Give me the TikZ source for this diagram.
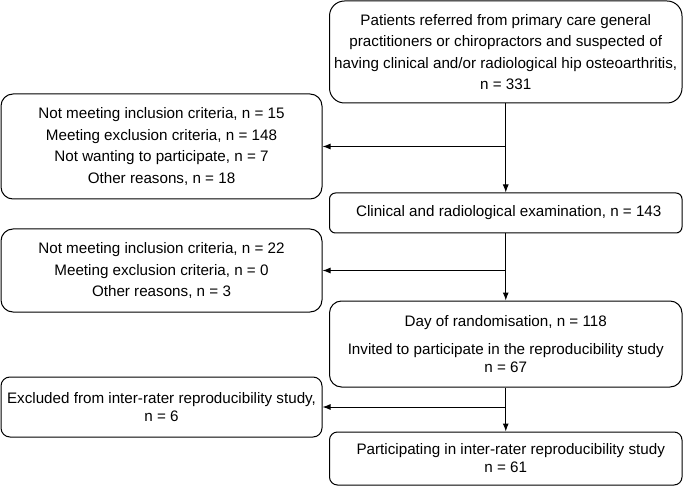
\documentclass[tikz,border=0pt]{standalone}
\usepackage{fontspec}
\setmainfont{Liberation Sans}
\usetikzlibrary{arrows.meta}

\begin{document}
\begin{tikzpicture}[line width=1pt, >={Latex[length=8pt,width=6pt]},
    box/.style = {draw, rounded corners=12pt, align=center, inner sep=0pt, minimum width=352.5pt, font=\fontsize{15.2}{21.5}\selectfont},
    side/.style = {box, minimum width=321pt},
    tight/.style = {font=\fontsize{15.2}{18}\selectfont}]

    \useasboundingbox (0,0) rectangle (685pt,-486pt);

    \node[box, minimum height=102pt, rounded corners=15pt] (ref) at (505.75pt,-52pt) {Patients referred from primary care general\\ practitioners or chiropractors and suspected of\\ having clinical and/or radiological hip osteoarthritis,\\ n = 331};
    \node[box, minimum height=40pt, rounded corners=6pt] (exam) [node distance=161pt, below of=ref] {\hspace{6pt}Clinical and radiological examination, n = 143};
    \node[box, tight, minimum height=86pt] (rand) [node distance=131pt, below of=exam] {Day of randomisation, n = 118\\[10pt] Invited to participate in the reproducibility study\\ n = 67};
    \node[box, tight, minimum height=53pt, rounded corners=8pt] (part) [node distance=114.5pt, below of=rand] {\hspace{10pt}Participating in inter-rater reproducibility study\\ n = 61};

    \node[side, minimum height=105pt] (excl1) at (161.5pt,-146.5pt) {Not meeting inclusion criteria, n = 15\\ Meeting exclusion criteria, n = 148\\ Not wanting to participate, n = 7\\ Other reasons, n = 18};
    \node[side, minimum height=83pt] (excl2) at (161.5pt,-270.5pt) {Not meeting inclusion criteria, n = 22\\ Meeting exclusion criteria, n = 0\\ Other reasons, n = 3};
    \node[side, tight, minimum height=60pt, rounded corners=9pt] (excl3) at (161.5pt,-407pt) {Excluded from inter-rater reproducibility study,\\ n = 6};

    \draw[->] (ref) -- (exam);
    \draw[->] (exam) -- (rand);
    \draw[->] (rand) -- (part);

    \draw[->] (ref.south |- excl1.east) -- (excl1.east);
    \draw[->] (exam.south |- excl2.east) -- (excl2.east);
    \draw[->] (rand.south |- excl3.east) -- (excl3.east);
\end{tikzpicture}
\end{document}
